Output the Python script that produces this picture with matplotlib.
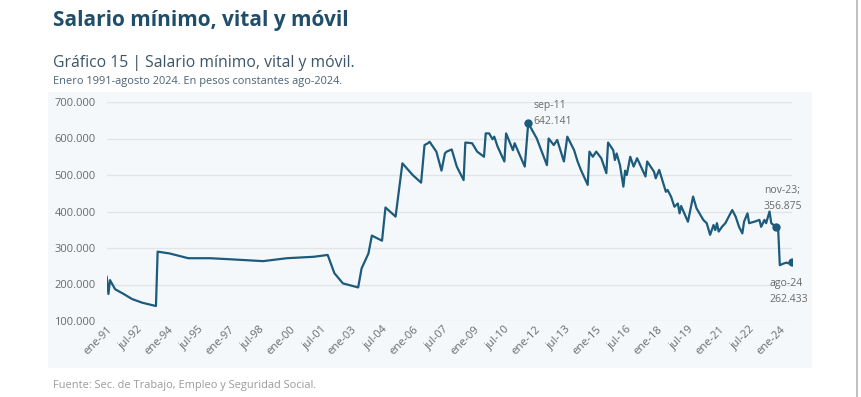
import matplotlib.pyplot as plt
from matplotlib.patches import Rectangle
from matplotlib.lines import Line2D
import pandas as pd

plt.rcParams['font.family'] = ['Open Sans', 'DejaVu Sans']

# salario minimo, vital y movil, pesos constantes ago-2024
fechas = [
    '1991-01', '1991-02', '1991-03', '1991-06', '1991-11', '1992-04', '1992-10', '1993-06',
    '1993-07', '1994-02', '1995-01', '1996-02', '1997-02', '1998-09', '1999-11', '2001-03',
    '2001-11', '2002-03', '2002-08', '2003-05', '2003-07', '2003-11', '2004-01', '2004-07',
    '2004-09', '2005-03', '2005-07', '2006-01', '2006-06', '2006-08', '2006-10', '2006-11',
    '2007-03', '2007-06', '2007-08', '2007-09', '2007-12', '2008-03', '2008-07', '2008-08',
    '2008-12', '2009-03', '2009-07', '2009-08', '2009-10', '2009-12', '2010-01', '2010-03',
    '2010-07', '2010-08', '2010-12', '2011-01', '2011-07', '2011-09', '2012-02', '2012-08',
    '2012-09', '2012-12', '2013-02', '2013-06', '2013-08', '2013-12', '2014-02', '2014-04',
    '2014-08', '2014-09', '2014-11', '2015-01', '2015-04', '2015-07', '2015-08', '2015-11',
    '2015-12', '2016-01', '2016-03', '2016-05', '2016-06', '2016-07', '2016-09', '2016-11',
    '2017-01', '2017-06', '2017-07', '2017-11', '2017-12', '2018-02', '2018-06', '2018-07',
    '2018-09', '2018-11', '2019-01', '2019-02', '2019-03', '2019-07', '2019-10', '2019-12',
    '2020-04', '2020-06', '2020-08', '2020-10', '2020-11', '2020-12', '2021-01', '2021-03',
    '2021-05', '2021-07', '2021-09', '2021-11', '2022-01', '2022-03', '2022-04', '2022-06',
    '2022-07', '2022-10', '2023-01', '2023-02', '2023-04', '2023-05', '2023-07', '2023-08',
    '2023-11', '2023-12', '2024-01', '2024-03', '2024-05', '2024-06', '2024-08',
]
valores = [
    221000, 174000, 212000, 187000, 174000, 160000, 150000, 141000,
    290000, 285000, 272000, 272000, 269000, 264000, 272000, 276000,
    281000, 231000, 203000, 192000, 244000, 285000, 334000, 320000,
    411000, 386000, 532000, 500000, 479000, 582000, 587000, 591000,
    564000, 512000, 559000, 564000, 570000, 523000, 486000, 589000,
    587000, 564000, 550000, 614000, 614000, 598000, 605000, 578000,
    537000, 614000, 568000, 587000, 523000, 642141, 600000, 527000,
    600000, 582000, 596000, 537000, 605000, 568000, 537000, 514000,
    473000, 564000, 550000, 564000, 546000, 505000, 589000, 568000,
    541000, 559000, 527000, 468000, 512000, 500000, 550000, 523000,
    546000, 496000, 537000, 509000, 491000, 514000, 454000, 459000,
    441000, 413000, 422000, 395000, 415000, 372000, 441000, 409000,
    377000, 368000, 336000, 363000, 349000, 368000, 345000, 358000,
    368000, 386000, 404000, 386000, 358000, 340000, 372000, 395000,
    368000, 372000, 377000, 358000, 377000, 368000, 400000, 368000,
    356875, 358000, 253000, 257000, 260000, 258000, 262433,
]
anotados = ['2011-09', '2023-11', '2024-08']
etiquetas = ['sep-11\n642.141', 'nov-23;\n356.875', 'ago-24\n262.433']
meses = ['ene', 'feb', 'mar', 'abr', 'may', 'jun', 'jul', 'ago', 'sep', 'oct', 'nov', 'dic']

x = pd.to_datetime(fechas)
serie = pd.Series(valores, index=x)

linea = '#1c5b7c'
gris = '#6a6a6a'

fig = plt.figure(figsize=(8.62, 3.97), dpi=100)
W, H = 862, 397

# panel de fondo
fig.add_artist(Rectangle((48 / W, 1 - 368 / H), (812 - 48) / W, (368 - 92) / H,
                         transform=fig.transFigure, facecolor='#f5f8fa',
                         edgecolor='none', zorder=0))
fig.add_artist(Line2D([857 / W, 857 / W], [0, 1], transform=fig.transFigure,
                      color='#b5b5b5', lw=1.2))

ax = fig.add_axes([106.7 / W, 1 - 321 / H, (791.7 - 106.7) / W, (321 - 102) / H])
ax.set_facecolor('none')
ax.plot(serie.index, serie.values, color=linea, lw=1.6, solid_joinstyle='round', zorder=3)

for f, txt in zip(anotados, etiquetas):
    d = pd.Timestamp(f)
    v = serie[d]
    ax.plot(d, v, 'o', color=linea, ms=5, zorder=4)
    if f == '2011-09':
        ax.annotate(txt, (d, v), xytext=(4, -3), textcoords='offset points',
                    fontsize=7.5, color=gris, ha='left', va='bottom', linespacing=1.6)
    elif f == '2023-11':
        ax.annotate(txt, (d, v), xytext=(-9, 11), textcoords='offset points',
                    fontsize=7.5, color=gris, ha='left', va='bottom', linespacing=1.6)
    else:
        ax.annotate(txt, (d, v), xytext=(-16, -12), textcoords='offset points',
                    fontsize=7.5, color=gris, ha='left', va='top', linespacing=1.6)

ax.set_xlim(x[0], x[-1])
ax.set_ylim(100000, 700000)
ax.set_yticks(range(100000, 700001, 100000))
ax.set_yticklabels([f'{v:,.0f}'.replace(',', '.') for v in range(100000, 700001, 100000)])
ax.grid(axis='y', color='#e2e5e8', lw=1)
ax.set_axisbelow(True)

ticks = pd.date_range('1991-01-01', '2024-01-01', freq='18MS')
ax.set_xticks(ticks)
ax.set_xticklabels([f'{meses[t.month - 1]}-{t.year % 100:02d}' for t in ticks],
                   rotation=45, ha='right', rotation_mode='anchor')
ax.tick_params(axis='both', length=0, labelsize=8, labelcolor=gris)
ax.tick_params(axis='y', pad=8)
ax.tick_params(axis='x', pad=2)
for s in ax.spines.values():
    s.set_visible(False)

fig.text(53 / W, 1 - 26 / H, 'Salario mínimo, vital y móvil', fontsize=15,
         fontweight='bold', color='#1f4e6b', ha='left', va='baseline')
fig.text(53 / W, 1 - 67 / H, 'Gráfico 15 | Salario mínimo, vital y móvil.', fontsize=11.3,
         color='#3b566b', ha='left', va='baseline')
fig.text(53 / W, 1 - 84 / H, 'Enero 1991-agosto 2024. En pesos constantes ago-2024.',
         fontsize=7.9, color='#4a6275', ha='left', va='baseline')
fig.text(53 / W, 1 - 388 / H, 'Fuente: Sec. de Trabajo, Empleo y Seguridad Social.',
         fontsize=7.9, color='#9a9a9a', ha='left', va='baseline')

fig.savefig('out.png', dpi=100, facecolor='white')
